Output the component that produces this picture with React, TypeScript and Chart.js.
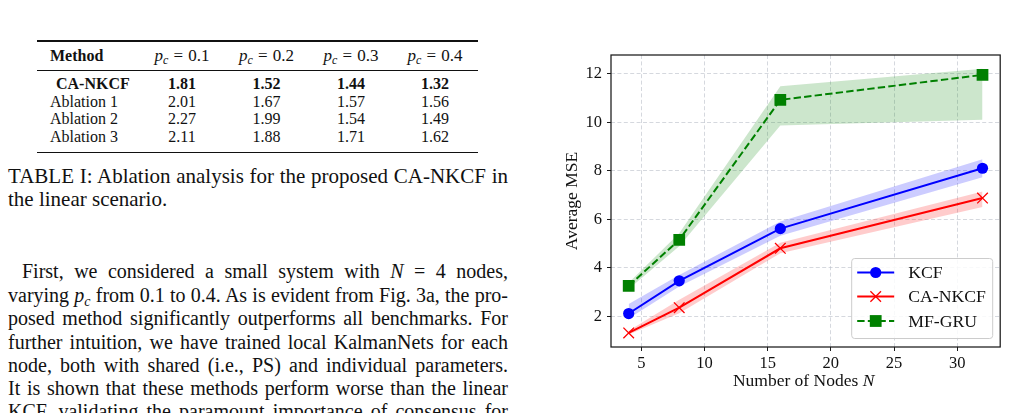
import React, { useEffect, useRef } from "react";
import { Chart, registerables } from "chart.js";

Chart.register(...registerables);

// ---- chart data: average MSE vs. number of nodes ----
const nodeCounts = [4, 8, 16, 32];

const kcfMse = [2.11, 3.46, 5.61, 8.1];
const kcfLow = [1.9, 3.22, 5.32, 7.73];
const kcfHigh = [2.5, 3.7, 5.9, 8.47];

const caNkcfMse = [1.31, 2.35, 4.8, 6.87];
const caNkcfLow = [1.25, 2.12, 4.6, 6.5];
const caNkcfHigh = [1.4, 2.68, 5.03, 7.14];

const mfGruMse = [3.25, 5.15, 10.92, 11.95];
const mfGruLow = [3.12, 4.88, 9.86, 10.1];
const mfGruHigh = [3.38, 5.42, 11.48, 12.2];

const seriesLabels = ["KCF", "CA-NKCF", "MF-GRU"];
const xTicks = [5, 10, 15, 20, 25, 30];
const yTicks = [2, 4, 6, 8, 10, 12];

// ---- table data: ablation results ----
const pcValues = ["0.1", "0.2", "0.3", "0.4"];
const methodNames = ["CA-NKCF", "Ablation 1", "Ablation 2", "Ablation 3"];
const caNkcfScores = ["1.81", "1.52", "1.44", "1.32"];
const ablation1Scores = ["2.01", "1.67", "1.57", "1.56"];
const ablation2Scores = ["2.27", "1.99", "1.54", "1.49"];
const ablation3Scores = ["2.11", "1.88", "1.71", "1.62"];
const tableRows = [caNkcfScores, ablation1Scores, ablation2Scores, ablation3Scores];

const BLUE = "#0000ff";
const RED = "#ff0000";
const GREEN = "#008000";
const SERIF = '"Liberation Serif", "Times New Roman", serif';

const pts = (ys: number[]) => nodeCounts.map((x, i) => ({ x, y: ys[i] }));

const bandPair = (low: number[], high: number[], fill: string) => [
  {
    data: pts(low),
    borderWidth: 0,
    pointRadius: 0,
    fill: false,
    order: 10,
  },
  {
    data: pts(high),
    borderWidth: 0,
    pointRadius: 0,
    fill: "-1",
    backgroundColor: fill,
    order: 10,
  },
];

// frame, legend and axis titles drawn on top of the plot
const decorations = {
  id: "decorations",
  afterDraw(chart: any) {
    const { ctx, chartArea: a } = chart;
    ctx.save();

    // axes frame
    ctx.strokeStyle = "#1a1a1a";
    ctx.lineWidth = 1.25;
    ctx.setLineDash([]);
    ctx.strokeRect(a.left, a.top, a.right - a.left, a.bottom - a.top);

    // legend box
    const bw = 141;
    const bh = 80;
    const bx = a.right - 8 - bw;
    const by = a.bottom - 9 - bh;
    ctx.beginPath();
    ctx.roundRect(bx + 0.5, by + 0.5, bw, bh, 3);
    ctx.fillStyle = "rgba(255,255,255,0.85)";
    ctx.fill();
    ctx.strokeStyle = "#cccccc";
    ctx.lineWidth = 1;
    ctx.stroke();

    const rows = [by + 14.5, by + 38.5, by + 63];
    const lx0 = bx + 6;
    const lx1 = bx + 43;
    const mx = (lx0 + lx1) / 2;
    ctx.font = `17.7px ${SERIF}`;
    ctx.textBaseline = "middle";
    ctx.textAlign = "left";
    seriesLabels.forEach((label, i) => {
      const y = rows[i];
      const color = [BLUE, RED, GREEN][i];
      ctx.strokeStyle = color;
      ctx.lineWidth = 2;
      ctx.setLineDash(i === 2 ? [7.4, 3.2] : []);
      ctx.beginPath();
      ctx.moveTo(lx0, y);
      ctx.lineTo(lx1, y);
      ctx.stroke();
      ctx.setLineDash([]);
      ctx.fillStyle = color;
      if (i === 0) {
        ctx.beginPath();
        ctx.arc(mx, y, 5.6, 0, Math.PI * 2);
        ctx.fill();
      } else if (i === 1) {
        ctx.lineWidth = 1.3;
        const r = 5.3;
        ctx.beginPath();
        ctx.moveTo(mx - r, y - r);
        ctx.lineTo(mx + r, y + r);
        ctx.moveTo(mx + r, y - r);
        ctx.lineTo(mx - r, y + r);
        ctx.stroke();
      } else {
        ctx.fillRect(mx - 5.9, y - 5.9, 11.8, 11.8);
      }
      ctx.fillStyle = "#111";
      ctx.fillText(label, bx + 57, y + 1);
    });

    // x axis title with italic N
    ctx.fillStyle = "#111";
    const plain = "Number of Nodes ";
    ctx.font = `17.5px ${SERIF}`;
    const w1 = ctx.measureText(plain).width;
    ctx.font = `italic 17.5px ${SERIF}`;
    const w2 = ctx.measureText("N").width;
    const x0 = (a.left + a.right) / 2 - (w1 + w2) / 2 - 2;
    const ty = a.bottom + 34;
    ctx.font = `17.5px ${SERIF}`;
    ctx.fillText(plain, x0, ty);
    ctx.font = `italic 17.5px ${SERIF}`;
    ctx.fillText("N", x0 + w1, ty);

    // y axis title
    ctx.font = `17.5px ${SERIF}`;
    ctx.translate(a.left - 39, (a.top + a.bottom) / 2);
    ctx.rotate(-Math.PI / 2);
    ctx.textAlign = "center";
    ctx.fillText("Average MSE", 0, 0);

    ctx.restore();
  },
};

function MseChart() {
  const ref = useRef<HTMLCanvasElement>(null);
  useEffect(() => {
    const gridCommon = {
      color: "rgba(185,190,200,0.75)",
      lineWidth: 0.8,
      drawTicks: true,
      tickLength: 4,
      tickColor: "#1a1a1a",
      tickWidth: 1,
      tickBorderDash: [],
    };
    const tickFont = { family: SERIF, size: 16.5 };
    const chart = new Chart(ref.current as HTMLCanvasElement, {
      type: "line",
      data: {
        datasets: [
          ...bandPair(kcfLow, kcfHigh, "rgba(0,0,255,0.2)"),
          ...bandPair(caNkcfLow, caNkcfHigh, "rgba(255,0,0,0.2)"),
          ...bandPair(mfGruLow, mfGruHigh, "rgba(0,128,0,0.2)"),
          {
            label: seriesLabels[0],
            data: pts(kcfMse),
            borderColor: BLUE,
            backgroundColor: BLUE,
            borderWidth: 2,
            pointStyle: "circle",
            pointRadius: 5.6,
            pointBorderWidth: 0,
            pointBackgroundColor: BLUE,
            fill: false,
            order: 3,
          },
          {
            label: seriesLabels[1],
            data: pts(caNkcfMse),
            borderColor: RED,
            backgroundColor: RED,
            borderWidth: 2,
            pointStyle: "crossRot",
            pointRadius: 7.5,
            pointBorderWidth: 1.3,
            pointBorderColor: RED,
            fill: false,
            order: 2,
          },
          {
            label: seriesLabels[2],
            data: pts(mfGruMse),
            borderColor: GREEN,
            backgroundColor: GREEN,
            borderWidth: 2,
            borderDash: [7.4, 3.2],
            pointStyle: "rect",
            pointRadius: 8.3,
            pointBorderWidth: 0,
            pointBackgroundColor: GREEN,
            fill: false,
            order: 1,
          },
        ] as any,
      },
      options: {
        animation: false,
        responsive: false,
        devicePixelRatio: 1,
        layout: { padding: { left: 0, top: 15, right: 7, bottom: 0 } },
        plugins: {
          legend: { display: false },
          tooltip: { enabled: false },
        },
        elements: { line: { tension: 0 } },
        scales: {
          x: {
            type: "linear",
            min: 2.6,
            max: 33.4,
            afterBuildTicks: (axis: any) => {
              axis.ticks = xTicks.map((v) => ({ value: v }));
            },
            afterFit: (axis: any) => {
              axis.height = 66;
            },
            grid: gridCommon,
            border: { display: false, dash: [4, 2.4] },
            ticks: { font: tickFont, color: "#111", padding: 3, maxRotation: 0 },
          },
          y: {
            type: "linear",
            min: 0.73,
            max: 12.77,
            afterBuildTicks: (axis: any) => {
              axis.ticks = yTicks.map((v) => ({ value: v }));
            },
            afterFit: (axis: any) => {
              axis.width = 71;
            },
            grid: gridCommon,
            border: { display: false, dash: [4, 2.4] },
            ticks: { font: tickFont, color: "#111", padding: 5 },
          },
        },
      } as any,
      plugins: [decorations],
    });
    return () => chart.destroy();
  }, []);
  return <canvas ref={ref} width={469} height={373} style={{ width: 469, height: 373, display: "block" }} />;
}

const abs = (left: number, top: number, extra: React.CSSProperties = {}): React.CSSProperties => ({
  position: "absolute",
  left,
  top,
  whiteSpace: "nowrap",
  ...extra,
});

const Pc = () => (
  <>
    <i>p</i>
    <span style={{ fontSize: "0.7em", fontStyle: "italic", verticalAlign: "-0.28em", lineHeight: 0 }}>c</span>
  </>
);

const colCenters = [182, 266.5, 351, 435];
const rowCenters = [84, 101.5, 119, 137];

function AblationTable() {
  const cell = (cx: number, cy: number, content: React.ReactNode, bold = false, key?: string, size = 16) => (
    <div
      key={key}
      style={abs(cx, cy, {
        transform: "translate(-50%, -50%)",
        fontSize: size,
        lineHeight: "18px",
        fontWeight: bold ? "bold" : "normal",
      })}
    >
      {content}
    </div>
  );
  const rule = (top: number, h: number) => (
    <div style={{ position: "absolute", left: 37, top, width: 441, height: h, background: "#111" }} />
  );
  return (
    <>
      {rule(40.3, 1.4)}
      {rule(69.5, 0.9)}
      {rule(151.8, 1.4)}
      <div style={abs(50, 47, { fontSize: 16, lineHeight: "18px", fontWeight: "bold" })}>Method</div>
      {pcValues.map((p, j) =>
        cell(
          colCenters[j],
          56,
          <span>
            <Pc />
            <span style={{ margin: "0 0.3em" }}>=</span>
            {p}
          </span>,
          false,
          "h" + j,
          17
        )
      )}
      {methodNames.map((name, i) => (
        <div
          key={"m" + i}
          style={abs(i === 0 ? 56 : 50, rowCenters[i] - 9, {
            fontSize: 16,
            lineHeight: "18px",
            fontWeight: i === 0 ? "bold" : "normal",
          })}
        >
          {name}
        </div>
      ))}
      {tableRows.map((row, i) => row.map((v, j) => cell(colCenters[j], rowCenters[i], v, i === 0, `c${i}-${j}`)))}
    </>
  );
}

const JLine = ({
  left,
  cy,
  width,
  size = 20,
  children,
}: {
  left: number;
  cy: number;
  width: number;
  size?: number;
  children: React.ReactNode;
}) => (
  <div
    style={{
      position: "absolute",
      left,
      top: cy - 12,
      width,
      fontSize: size,
      lineHeight: "24px",
      textAlign: "justify",
      textAlignLast: "justify",
    }}
  >
    {children}
  </div>
);

export default function App() {
  return (
    <div
      style={{
        position: "fixed",
        left: 0,
        top: 0,
        width: 1009,
        height: 413,
        overflow: "hidden",
        background: "#fff",
        fontFamily: SERIF,
        color: "#111",
      }}
    >
      <AblationTable />

      <JLine left={8} cy={176} width={500} size={21}>
        TABLE I: Ablation analysis for the proposed CA-NKCF in
      </JLine>
      <div style={abs(8, 199 - 12, { fontSize: 21, lineHeight: "24px" })}>the linear scenario.</div>

      <JLine left={22} cy={271} width={486}>
        First, we considered a small system with <i>N</i> = 4 nodes,
      </JLine>
      <JLine left={8} cy={295} width={500}>
        varying <Pc /> from 0.1 to 0.4. As is evident from Fig. 3a, the pro-
      </JLine>
      <JLine left={8} cy={318} width={500}>
        posed method significantly outperforms all benchmarks. For
      </JLine>
      <JLine left={8} cy={341.5} width={500}>
        further intuition, we have trained local KalmanNets for each
      </JLine>
      <JLine left={8} cy={365} width={500}>
        node, both with shared (i.e., PS) and individual parameters.
      </JLine>
      <JLine left={8} cy={388} width={500}>
        It is shown that these methods perform worse than the linear
      </JLine>
      <JLine left={8} cy={411} width={500}>
        KCF, validating the paramount importance of consensus for
      </JLine>

      <div style={{ position: "absolute", left: 540, top: 40, width: 469, height: 373 }}>
        <MseChart />
      </div>
    </div>
  );
}
